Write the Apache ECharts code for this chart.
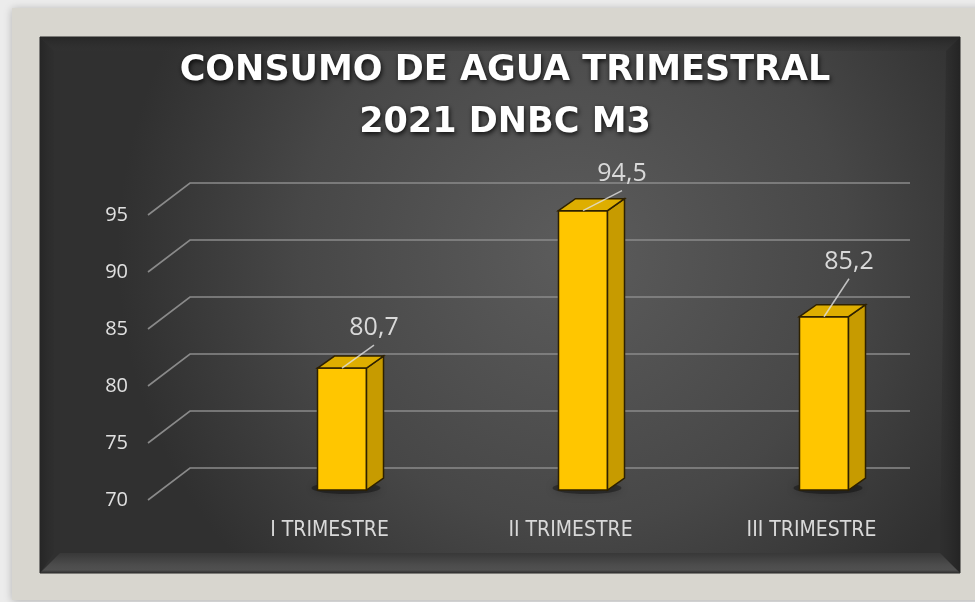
<!DOCTYPE html>
<html>
<head>
<meta charset="utf-8">
<script src="https://cdn.jsdelivr.net/npm/echarts@6/dist/echarts.min.js"></script>
<style>html,body{margin:0;padding:0;background:#ececec;}#c{width:975px;height:602px;}</style>
</head>
<body>
<div id="c"></div>
<script>
const categories = ['I TRIMESTRE', 'II TRIMESTRE', 'III TRIMESTRE'];
const consumo = [80.7, 94.5, 85.2];
const yTicks = [70, 75, 80, 85, 90, 95];
const titleLines = ['CONSUMO DE AGUA TRIMESTRAL', '2021 DNBC M3'];

// style constants (not data)
const labelNudge = [[32, -40], [39, -37], [25, -55]];
const barPlane = [12.5, -10];   // offset of bar front face from floor front plane
const depth = [17, -12];        // bar depth vector
const backPlane = [42, -32];    // back wall offset

const chart = echarts.init(document.getElementById('c'), null, {renderer: 'canvas'});

function fmt(v) { return String(v).replace('.', ','); }

const option = {
  animation: false,
  backgroundColor: '#ececec',
  title: {
    text: titleLines.join('\n'),
    left: 500,
    top: 40,
    textAlign: 'center',
    textStyle: {
      color: '#ffffff',
      fontFamily: 'DejaVu Sans',
      fontWeight: 'bold',
      fontSize: 35,
      lineHeight: 52,
      textShadowColor: 'rgba(0,0,0,0.85)',
      textShadowBlur: 5,
      textShadowOffsetX: 1,
      textShadowOffsetY: 2
    }
  },
  graphic: [
    { type: 'rect', z: -10, shape: {x: 12, y: 8, width: 975, height: 592},
      style: {fill: '#d8d6cf', shadowColor: 'rgba(0,0,0,0.25)', shadowBlur: 8, shadowOffsetY: 1} },
    { type: 'rect', z: -9, shape: {x: 40, y: 37, width: 920, height: 536},
      style: {
        fill: new echarts.graphic.RadialGradient(0.58, 0.4, 0.85, [
          {offset: 0, color: '#5c5c5c'},
          {offset: 0.6, color: '#474747'},
          {offset: 1, color: '#303030'}
        ]),
        stroke: '#222', lineWidth: 1
      } },
    { type: 'polygon', z: -8, shape: {points: [[40, 37], [960, 37], [946, 51], [54, 51]]},
      style: {fill: new echarts.graphic.LinearGradient(0, 0, 0, 1, [
        {offset: 0, color: '#272727'}, {offset: 1, color: 'rgba(50,50,50,0.3)'}])} },
    { type: 'polygon', z: -8, shape: {points: [[40, 37], [54, 51], [54, 553], [40, 573]]},
      style: {fill: new echarts.graphic.LinearGradient(0, 0, 1, 0, [
        {offset: 0, color: '#262626'}, {offset: 1, color: 'rgba(45,45,45,0.4)'}])} },
    { type: 'polygon', z: -8, shape: {points: [[960, 37], [946, 51], [940, 553], [960, 573]]},
      style: {fill: new echarts.graphic.LinearGradient(1, 0, 0, 0, [
        {offset: 0, color: '#242424'}, {offset: 1, color: 'rgba(45,45,45,0.4)'}])} },
    { type: 'polygon', z: -8, shape: {points: [[40, 573], [60, 553], [940, 553], [960, 573]]},
      style: {fill: new echarts.graphic.LinearGradient(0, 0, 0, 1, [
        {offset: 0, color: '#383838'}, {offset: 0.6, color: '#4c4c4c'}, {offset: 0.85, color: '#505050'}, {offset: 1, color: '#2e2e2e'}])} }
  ],
  grid: {left: 209, right: 43, top: 215, bottom: 102},
  xAxis: {
    type: 'category',
    data: categories,
    axisLine: {show: false},
    axisTick: {show: false},
    splitLine: {show: false},
    axisLabel: {color: '#d9d9d9', fontFamily: "'DejaVu Sans Condensed', 'Liberation Sans', sans-serif", fontSize: 21, margin: 20}
  },
  yAxis: {
    type: 'value',
    min: 70, max: 95, interval: 5,
    axisLine: {show: false},
    axisTick: {show: false},
    splitLine: {show: false},
    axisLabel: {color: '#e0e0e0', fontFamily: 'Open Sans', fontSize: 20, margin: 81}
  },
  series: [
    {
      type: 'custom',
      silent: true,
      z: 1,
      data: yTicks.map(v => [0, v]),
      renderItem: function (params, api) {
        const cs = params.coordSys;
        const y = api.coord([0, api.value(1)])[1];
        const x0 = cs.x - 61;
        return {
          type: 'polyline',
          shape: {points: [[x0, y], [x0 + backPlane[0], y + backPlane[1]], [cs.x + cs.width - 22, y + backPlane[1]]]},
          style: {stroke: '#8a8a8a', lineWidth: 1.6, fill: null}
        };
      }
    },
    {
      type: 'custom',
      silent: true,
      z: 2,
      data: consumo.map((v, i) => [i, v]),
      renderItem: function (params, api) {
        const i = api.value(0), v = api.value(1);
        const top = api.coord([i, v]);
        const base = api.coord([i, yTicks[0]]);
        const w = 49;
        const cx = top[0] + barPlane[0];
        const ty = top[1] + barPlane[1];
        const by = base[1] + barPlane[1];
        const xl = cx - w / 2, xr = cx + w / 2;
        const dx = depth[0], dy = depth[1];
        const stroke = '#2e2100';
        const nud = labelNudge[params.dataIndex];
        return {
          type: 'group',
          children: [
            { type: 'ellipse', shape: {cx: cx + 4, cy: by - 2, rx: w / 2 + 10, ry: 6},
              style: {fill: 'rgba(0,0,0,0.35)', shadowBlur: 10, shadowColor: 'rgba(0,0,0,0.7)'} },
            { type: 'rect', shape: {x: xl, y: ty, width: w, height: by - ty},
              style: {fill: '#ffc600', stroke: stroke, lineWidth: 1.5} },
            { type: 'polygon', shape: {points: [[xr, ty], [xr + dx, ty + dy], [xr + dx, by + dy], [xr, by]]},
              style: {fill: '#c79b00', stroke: stroke, lineWidth: 1.5} },
            { type: 'polygon', shape: {points: [[xl, ty], [xl + dx, ty + dy], [xr + dx, ty + dy], [xr, ty]]},
              style: {fill: '#deae00', stroke: stroke, lineWidth: 1.5} },
            { type: 'line', shape: {x1: cx, y1: ty, x2: cx + nud[0], y2: ty + nud[1] + 17},
              style: {stroke: 'rgba(225,225,225,0.8)', lineWidth: 1.5} },
            { type: 'text', x: cx + nud[0], y: ty + nud[1],
              style: {text: fmt(v), fill: '#d9d9d9', fontFamily: 'Open Sans', fontSize: 25,
                      align: 'center', verticalAlign: 'middle'} }
          ]
        };
      }
    }
  ]
};
chart.setOption(option);
</script>
</body>
</html>
